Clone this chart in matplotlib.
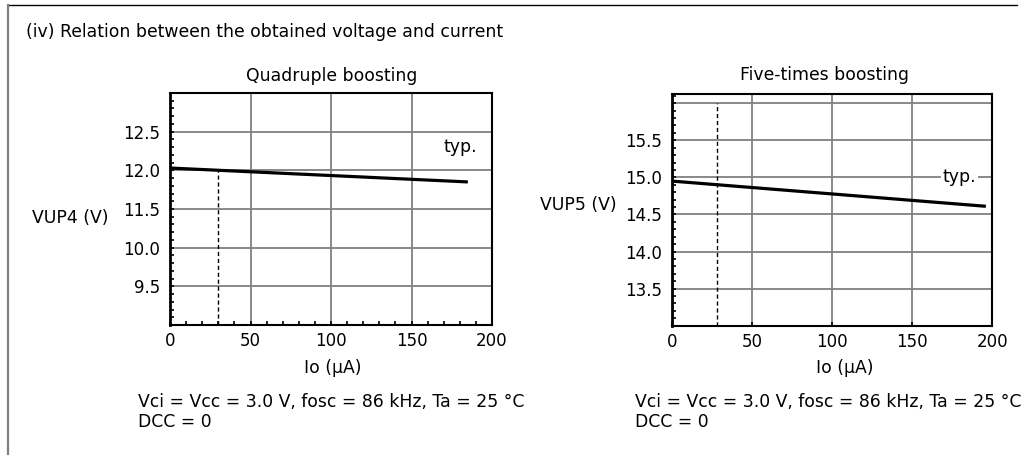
import matplotlib
matplotlib.use("Agg")
import matplotlib.pyplot as plt
from matplotlib.lines import Line2D
from matplotlib.ticker import MultipleLocator

# the original lettering is a wide Helvetica, DejaVu Sans comes closest in width
plt.rcParams['font.family'] = ['DejaVu Sans']
plt.rcParams['font.size'] = 12
TXT = 12.4

# data
io_q = [0, 185]            # uA
vup4 = [12.03, 11.85]      # V
io_f = [0, 196]
vup5 = [14.95, 14.61]
dash_q = 30
dash_f = 28

yticks_q = [10.5, 11.0, 11.5, 12.0, 12.5]
ylabels_q = ['9.5', '10.0', '11.5', '12.0', '12.5']
yticks_f = [13.5, 14.0, 14.5, 15.0, 15.5, 16.0]
ylabels_f = ['13.5', '14.0', '14.5', '15.0', '15.5', '']
xticks = [0, 50, 100, 150, 200]

title = '(iv) Relation between the obtained voltage and current'
cond1 = 'Vci = Vcc = 3.0 V, fosc = 86 kHz, Ta = 25 \u00b0C'
cond2 = 'DCC = 0'

W, H = 1026, 455
fig = plt.figure(figsize=(W / 100, H / 100), dpi=100)


def fx(px):
    return px / W


def fy(py):
    return 1 - py / H


def setup(ax, ylim, yt, yl, xminor):
    ax.set_xlim(0, 200)
    ax.set_ylim(*ylim)
    ax.set_xticks(xticks)
    ax.set_yticks(yt)
    ax.set_yticklabels(yl)
    ax.yaxis.set_minor_locator(MultipleLocator(0.1))
    if xminor:
        ax.xaxis.set_minor_locator(MultipleLocator(10))
    ax.grid(True, which='major', color='#808080', lw=1.3)
    ax.tick_params(which='both', direction='in', length=3, width=1.2,
                   top=False, right=False, color='black')
    ax.tick_params(axis='y', which='major', pad=7)
    ax.tick_params(axis='x', which='major', pad=5)
    for s in ax.spines.values():
        s.set_linewidth(1.5)
    ax.spines['left'].set_linewidth(2)


ax1 = fig.add_axes([fx(170), fy(325), fx(322), 232 / H])
setup(ax1, (10.0, 13.0), yticks_q, ylabels_q, True)
ax1.plot(io_q, vup4, color='black', lw=2.3, solid_capstyle='butt')
ax1.plot([dash_q, dash_q], [10.0, 12.0], color='black', lw=1,
         ls=(0, (3, 2)))
ax1.text(170, 12.3, 'typ.', ha='left', va='center', fontsize=TXT)

ax2 = fig.add_axes([fx(671.7), fy(325.7), fx(320.6), 231.4 / H])
setup(ax2, (13.0, 16.12), yticks_f, ylabels_f, False)
ax2.plot(io_f, vup5, color='black', lw=2.3, solid_capstyle='butt')
ax2.plot([dash_f, dash_f], [13.0, 16.0], color='black', lw=1,
         ls=(0, (3, 2)))
ax2.text(169, 15.0, 'typ.', ha='left', va='center', fontsize=TXT,
         bbox=dict(facecolor='white', edgecolor='none', pad=1.5))

fig.text(fx(26), fy(32), title, ha='left', va='center', fontsize=TXT)
fig.text(fx(332), fy(76), 'Quadruple boosting', ha='center', va='center',
         fontsize=TXT)
fig.text(fx(825), fy(75), 'Five-times boosting', ha='center', va='center',
         fontsize=TXT)
fig.text(fx(70), fy(218), 'VUP4 (V)', ha='center', va='center', fontsize=TXT)
fig.text(fx(578), fy(205), 'VUP5 (V)', ha='center', va='center', fontsize=TXT)
fig.text(fx(333), fy(368), 'Io (\u03bcA)', ha='center', va='center',
         fontsize=TXT)
fig.text(fx(845), fy(368), 'Io (\u03bcA)', ha='center', va='center',
         fontsize=TXT)
for x0 in (138, 635):
    fig.text(fx(x0), fy(402), cond1, ha='left', va='center', fontsize=TXT)
    fig.text(fx(x0), fy(422), cond2, ha='left', va='center', fontsize=TXT)

# page frame
fig.add_artist(Line2D([fx(8), fx(1017)], [fy(5), fy(5)], color='black',
                      lw=1, transform=fig.transFigure))
fig.add_artist(Line2D([fx(8), fx(8)], [fy(5), fy(455)], color='#808080',
                      lw=1.6, transform=fig.transFigure))

fig.savefig('out.png', dpi=100)
